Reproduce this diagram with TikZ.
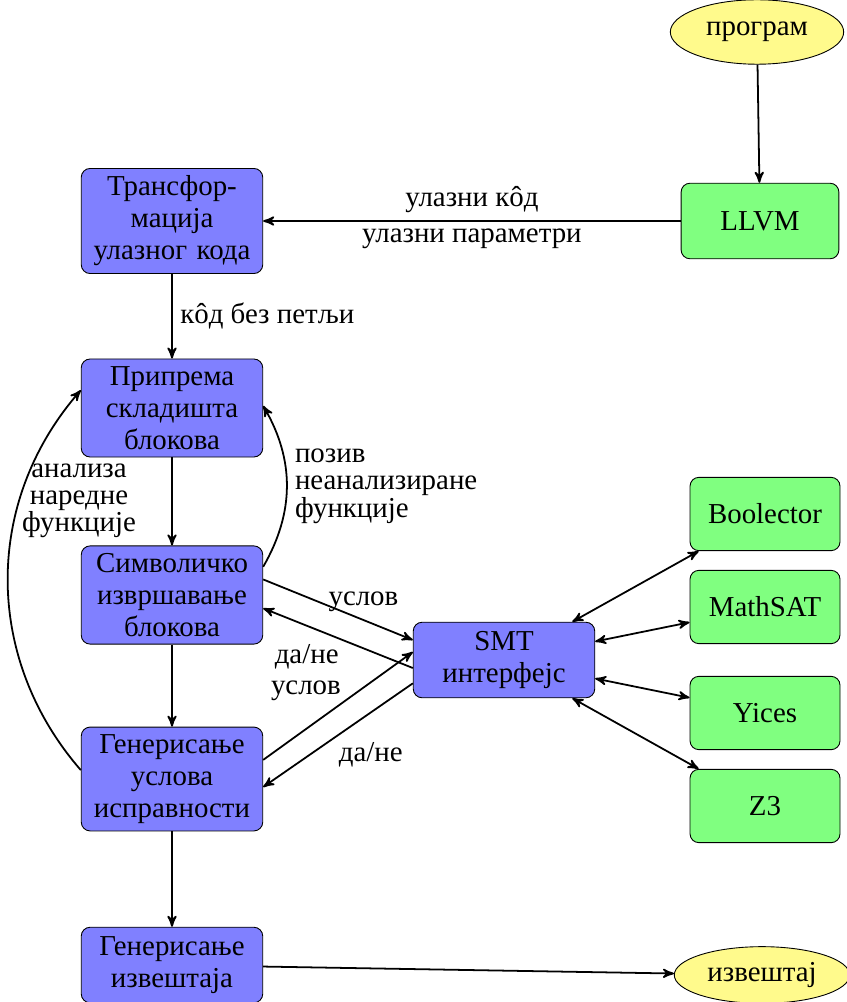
\documentclass[tikz,border=0pt]{standalone}
\usepackage{fontspec}
\setmainfont{Liberation Serif}
\usetikzlibrary{shapes.geometric, arrows, positioning, calc}
\tikzstyle{startstop} = [ellipse, text centered, draw=black, fill=colorStartstop]
\tikzstyle{process} = [rectangle, rounded corners, minimum width=80pt, minimum height=34pt, text width=75pt, align=center, draw=black, fill=colorPro]
\tikzstyle{solver} = [rectangle, rounded corners, minimum width=67.5pt, minimum height=33pt, text centered, draw=black, fill=colorSolver]
\tikzstyle{edgetext} = [align=left, font=\fontsize{13}{12.2}\selectfont]
\tikzstyle{arrow} = [thick,->,>=stealth']
\tikzstyle{biarrow} = [thick,<->,>=stealth']
\definecolor{colorStartstop}{RGB}{255, 250, 140}
\definecolor{colorPro}{RGB}{128, 128, 255}
\definecolor{colorSolver}{RGB}{128, 255, 128}

\begin{document}
\begin{tikzpicture}[font=\fontsize{13}{14.4}\selectfont, x=0.45pt, y=-0.45pt]

		\useasboundingbox (0,0) rectangle (846,1002);

		% main column
		\node (inProgram)[startstop, minimum width=78pt, minimum height=29pt] at (757,32) {програм};
		\node (pLLVM)[solver, minimum width=71pt, minimum height=34pt] at (760,221) {LLVM};
		\node (pTransform)[process] at (172,221) {Трансфор-\\мација\\улазног кода};
		\node (pPrepare)[process] at (172,408) {Припрема\\складишта\\блокова};
		\node (pSymExec)[process] at (172,595) {Символичко\\извршавање\\блокова};
		\node (pGenCond)[process] at (172,779) {Генерисање\\услова\\исправности};
		\node (pGenReport)[process] at (172,965) {Генерисање\\извештаја};
		\node (outReport)[startstop, minimum width=75pt, minimum height=25pt] at (762,975) {извештај};

		% SMT and solvers
		\node (pSMT)[process] at (504,660) {SMT\\интерфејс};
		\node (sBoolector)[solver] at (765,514) {Boolector};
		\node (sMathSAT)[solver] at (765,607) {MathSAT};
		\node (sYices)[solver] at (765,713) {Yices};
		\node (sZThree)[solver] at (765,806) {Z3};

		\node (txtNextFunc)[edgetext, align=center] at (79,501) {анализа\\наредне\\функције};

		% lines and arrows
		\draw[arrow](inProgram) -- (pLLVM);
		\draw[arrow](pLLVM) -- node[above]{улазни кôд} node[below]{улазни параметри} (pTransform);
		\draw[arrow](pTransform) -- node[right]{кôд без петљи} (pPrepare);
		\draw[arrow](pPrepare) -- (pSymExec);
		\draw[arrow](pSymExec) -- (pGenCond);
		\draw[arrow](pGenCond) -- (pGenReport);
		\draw[arrow](pGenReport) -- (outReport);

		\draw[arrow]([yshift=12.7pt]pSymExec.east) to[bend right=30] node[edgetext, right]{позив\\неанализиране\\функције} ([yshift=1pt]pPrepare.east);
		\draw[arrow]([yshift=4pt]pGenCond.west) to[bend left=41] ([yshift=8pt]pPrepare.west);

		\draw[arrow]([yshift=7pt]pSymExec.east) -- node[above, pos=0.67]{услов} ([yshift=9pt]pSMT.west);
		\draw[arrow]([yshift=-3.6pt]pSMT.west) -- node[below left, xshift=4pt, yshift=1pt]{да/не} ([yshift=-6pt]pSymExec.east);
		\draw[arrow]([yshift=8.6pt]pGenCond.east) -- node[above left, xshift=5pt, yshift=-1.5pt]{услов} ([yshift=3.6pt]pSMT.west);
		\draw[arrow]([yshift=-10.5pt]pSMT.west) -- node[below right, pos=0.55, yshift=3pt]{да/не} ([yshift=-3.6pt]pGenCond.east);

		\foreach \solver in {sBoolector, sMathSAT, sYices, sZThree}
			\draw[biarrow](pSMT) -- (\solver);

	\end{tikzpicture}
\end{document}
